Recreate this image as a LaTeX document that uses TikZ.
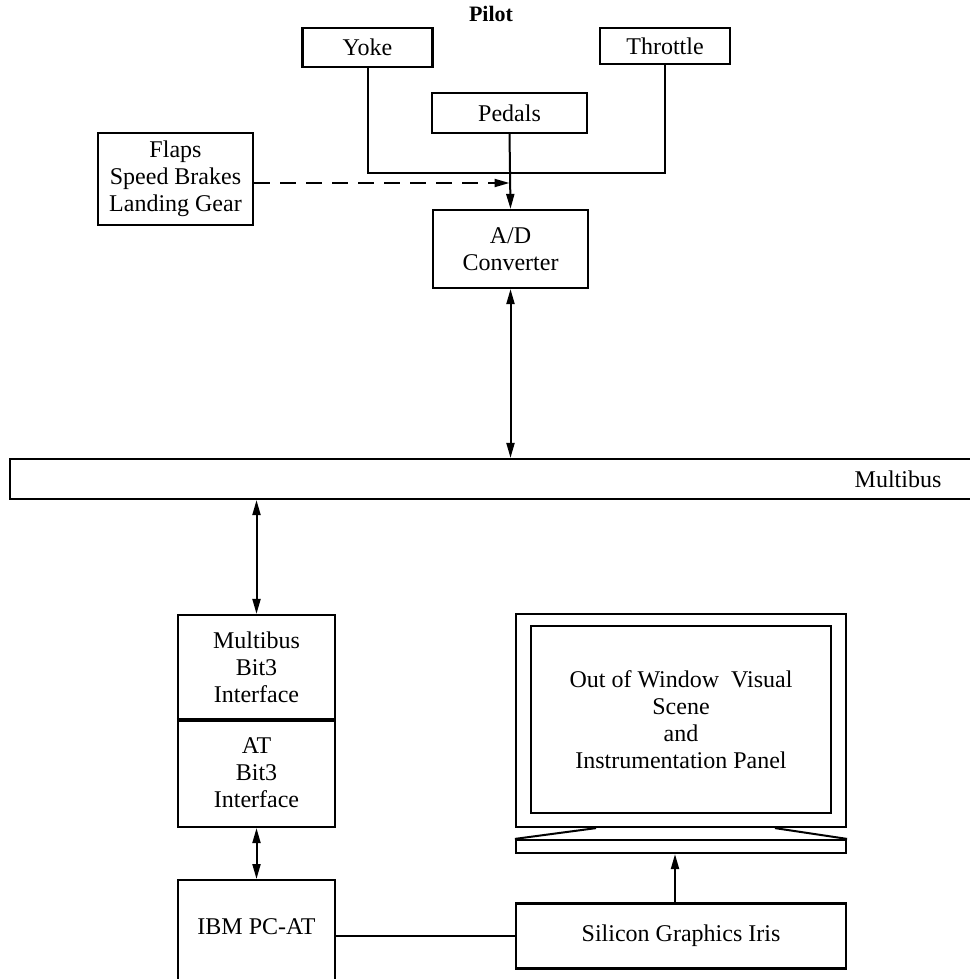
\documentclass[tikz,border=0pt]{standalone}
\usepackage{fontspec}
\setmainfont{Liberation Serif}
\usetikzlibrary{arrows.meta}

\begin{document}
\begin{tikzpicture}[x=1pt, y=-1pt,
    every node/.style={font=\fontsize{24}{27}\selectfont},
    box/.style={draw, line width=2.2pt, align=center, inner sep=2pt},
    link/.style={line width=2pt},
    tip/.style={-{Triangle[length=15pt,width=8pt]}},
    both/.style={{Triangle[length=15pt,width=8pt]}-{Triangle[length=15pt,width=8pt]}}]

\useasboundingbox (0,0) rectangle (969,979);

% Pilot controls
\node[font=\bfseries\fontsize{22}{26}\selectfont] (pilot) at (491,14) {Pilot};
\node[box, minimum width=130pt, minimum height=39pt] (yoke)     at (367.5,47.5) {Yoke};
\node[box, minimum width=130pt, minimum height=36pt] (throttle) at (665,46)     {Throttle};
\node[box, minimum width=155pt, minimum height=40pt] (pedals)   at (509.5,113)  {Pedals};
\node[box, minimum width=155pt, minimum height=92pt] (flaps)    at (175.5,179)  {Flaps\\Speed Brakes\\Landing Gear};
\node[box, minimum width=155pt, minimum height=78pt] (ad)       at (510.5,249)  {A/D\\Converter};

% Yoke and throttle join on the pedal line
\coordinate (join) at (509.5,173);
\coordinate (flapsin) at (509.5,183);
\draw[link] (yoke.south) |- (join) -| (throttle.south);
\draw[link, tip] (pedals.south) -- (ad.north);
\draw[link, tip, dash pattern=on 16pt off 10pt] ([yshift=-4pt]flaps.east) -- (flapsin);

% The bus
\node[box, minimum width=975pt, minimum height=40pt] (bus) at (497.5,479) {};
\node (buslabel) at (898,479) {Multibus};
\draw[link, both] (ad.south) -- (ad.south |- bus.north);

% Bit3 interface pair and the PC
\node[box, minimum width=157pt, minimum height=104pt] (mbit)  at (256.5,667) {Multibus\\Bit3\\Interface};
\node[box, minimum width=157pt, minimum height=108pt] (atbit) at (256.5,773) {AT\\Bit3\\Interface};
\draw[line width=3.8pt] (mbit.south west) -- (mbit.south east);
\node[box, anchor=north, minimum width=157pt, text height=50pt, text depth=70pt, inner sep=4pt] (ibm) at (256.5,879) {IBM PC-AT};
\draw[link, both] (mbit.north |- bus.south) -- (mbit.north);
\draw[link, both] (atbit.south) -- (ibm.north);

% Graphics workstation and its monitor
\node[box, minimum width=330pt, minimum height=65pt] (iris) at (681,936) {Silicon Graphics Iris};
\draw[link] (iris.west -| ibm.east) -- (iris.west);

\node[box, minimum width=330pt, minimum height=213pt] (monitor) at (681,720.5) {};
\node[box, minimum width=300pt, minimum height=187pt] (screen)  at (681,719.5) {Out of Window\ \ Visual\\Scene\\and\\Instrumentation Panel};
\node[box, minimum width=330pt, minimum height=13pt]  (stand)   at (681,846.5) {};
\draw[link] ([xshift=-85pt]monitor.south) -- (stand.north west);
\draw[link] ([xshift=94pt]monitor.south) -- (stand.north east);
\draw[link, tip] ([xshift=-6pt]iris.north) -- ([xshift=-6pt]stand.south);

\end{tikzpicture}
\end{document}
